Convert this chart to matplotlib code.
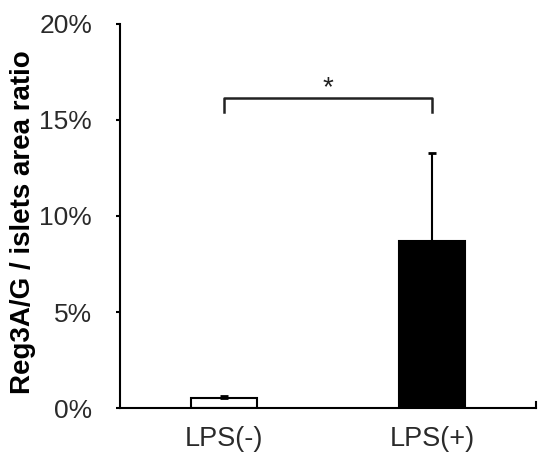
import matplotlib.pyplot as plt
import numpy as np
from matplotlib.ticker import FuncFormatter

groups = ["LPS(-)", "LPS(+)"]
means = [0.52, 8.7]
errs = [0.1, 4.6]
colors = ["white", "black"]
yticks = [0, 5, 10, 15, 20]
bracket_y = 16.15
bracket_drop = 0.75

plt.rcParams['font.family'] = ['Liberation Sans', 'DejaVu Sans']

fig = plt.figure(figsize=(5.5, 4.63), dpi=100)
ax = fig.add_axes([120 / 550, 1 - 408 / 463, 416 / 550, 384 / 463])

x = np.arange(len(groups))
ax.bar(x, means, width=0.32, color=colors, edgecolor="black", linewidth=1.5, zorder=2)
for xi, m, e in zip(x, means, errs):
    ax.errorbar([xi], [m], yerr=[[0], [e]], fmt="none", ecolor="black",
                elinewidth=1.5, capsize=3, capthick=2, zorder=3)

ax.set_xlim(-0.5, 1.5)
ax.set_ylim(0, 20)
ax.set_yticks(yticks)
ax.yaxis.set_major_formatter(FuncFormatter(lambda v, p: "{:d}%".format(int(v))))
ax.set_xticks(x)
ax.set_xticklabels(groups)
ax.tick_params(axis="y", direction="out", length=3, width=1.5, labelsize=19, pad=17)
ax.tick_params(axis="x", length=0, labelsize=19.5, pad=13)
for lab in ax.get_yticklabels() + ax.get_xticklabels():
    lab.set_color("#2a2a2a")

for s in ["top", "right"]:
    ax.spines[s].set_visible(False)
for s in ["left", "bottom"]:
    ax.spines[s].set_linewidth(1.5)

# small end tick on x axis
ax.plot([1.5, 1.5], [0, 0.3], color="black", lw=1.5, clip_on=False, zorder=4)

# significance bracket
ax.plot([0, 0, 1, 1], [bracket_y - bracket_drop, bracket_y, bracket_y, bracket_y - bracket_drop],
        color="#222222", lw=1.8)
ax.text(0.5, 16.65, "*", ha="center", va="center", fontsize=20, color="#222222")

ax.set_ylabel("Reg3A/G / islets area ratio", fontsize=20, fontweight="bold", labelpad=2.5, y=0.485)

fig.savefig("out.png", dpi=100)
